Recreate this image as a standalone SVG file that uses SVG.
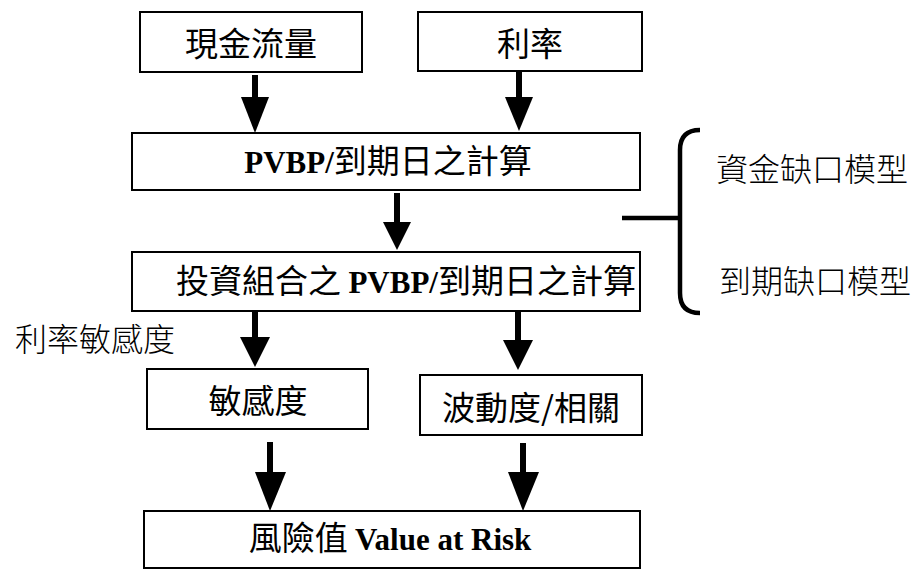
<svg xmlns="http://www.w3.org/2000/svg" width="915" height="570" viewBox="0 0 915 570">
<style>
.box{fill:#fff;stroke:#000;stroke-width:2}
.cjk{font-family:"Noto Sans CJK TC","Noto Sans CJK SC",sans-serif;font-size:33px;fill:#000}
.lat{font-family:"Liberation Serif","Times New Roman",serif;font-weight:bold;font-size:31px}
.thin{font-family:"Noto Sans CJK TC","Noto Sans CJK SC",sans-serif;font-size:32px;font-weight:300;fill:#000}
.shaft{stroke:#000;stroke-width:6;fill:none}
.head{fill:#000}
.brace{stroke:#000;stroke-width:4.5;fill:none}
</style>
<rect width="915" height="570" fill="#fff"/>
<g id="n-cashflow"><rect class="box" x="140" y="12" width="222" height="60"/><text class="cjk" x="251" y="56" text-anchor="middle">現金流量</text></g>
<g id="n-rate"><rect class="box" x="418" y="12" width="224" height="59"/><text class="cjk" x="530" y="56" text-anchor="middle">利率</text></g>
<g id="n-pvbp"><rect class="box" x="132" y="133" width="508" height="57"/><text class="cjk" x="388" y="173" text-anchor="middle"><tspan class="lat">PVBP/</tspan>到期日之計算</text></g>
<g id="n-portfolio"><rect class="box" x="132" y="252" width="508" height="59"/><text class="cjk" x="406" y="293" text-anchor="middle">投資組合之 <tspan class="lat">PVBP/</tspan>到期日之計算</text></g>
<g id="n-sens"><rect class="box" x="147" y="369" width="221" height="60"/><text class="cjk" x="258" y="413" text-anchor="middle">敏感度</text></g>
<g id="n-vol"><rect class="box" x="420" y="375" width="222" height="60"/><text class="cjk" x="531" y="420" text-anchor="middle">波動度/相關</text></g>
<g id="n-var"><rect class="box" x="144" y="511" width="496" height="57"/><text class="cjk" x="390" y="550" text-anchor="middle">風險值 <tspan class="lat">Value at Risk</tspan></text></g>
<g id="labels">
<text class="thin" x="15" y="351">利率敏感度</text>
<text class="thin" x="716" y="181">資金缺口模型</text>
<text class="thin" x="719" y="293">到期缺口模型</text>
</g>
<g id="connectors">
<line class="shaft" x1="255" y1="75" x2="255" y2="98"/><polygon class="head" points="241,97 269,97 255,133"/>
<line class="shaft" x1="519" y1="71" x2="519" y2="98"/><polygon class="head" points="505,97 533,97 519,131"/>
<line class="shaft" x1="397" y1="193" x2="397" y2="223"/><polygon class="head" points="383,222 411,222 397,250"/>
<line class="shaft" x1="255" y1="311" x2="255" y2="338"/><polygon class="head" points="240,337 270,337 255,367"/>
<line class="shaft" x1="518" y1="311" x2="518" y2="341"/><polygon class="head" points="503,340 533,340 518,370"/>
<line class="shaft" x1="270" y1="442" x2="270" y2="473"/><polygon class="head" points="255,472 286,472 270,511"/>
<line class="shaft" x1="523" y1="443" x2="523" y2="473"/><polygon class="head" points="508,472 539,472 523,511"/>
<line class="brace" x1="622" y1="218" x2="680" y2="218"/>
<path class="brace" d="M700,130 Q680,130 680,150 L680,293 Q680,313 700,313"/>
</g>
</svg>
